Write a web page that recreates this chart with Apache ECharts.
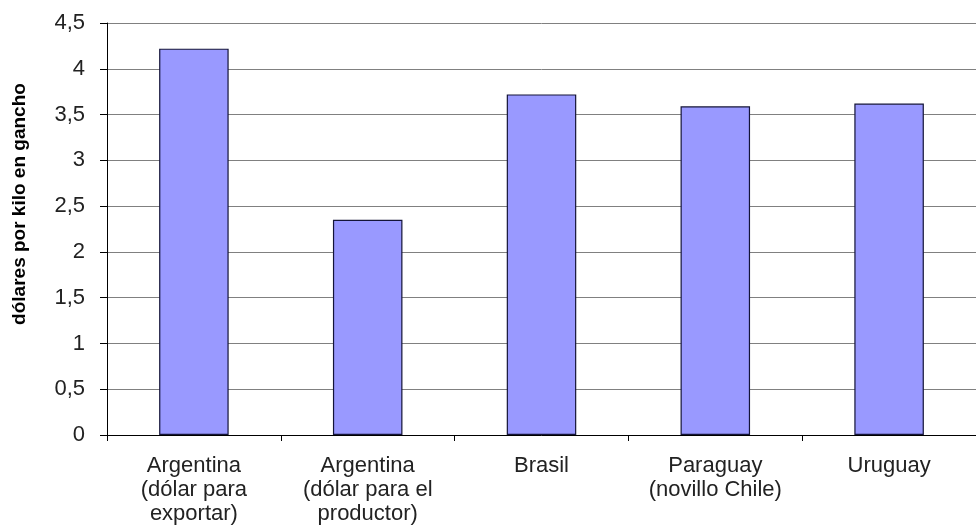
<!DOCTYPE html>
<html><head><meta charset="utf-8">
<script src="https://cdn.jsdelivr.net/npm/echarts@6/dist/echarts.min.js"></script>
<style>html,body{margin:0;padding:0;background:#fff}#c{width:976px;height:526px}</style>
</head><body><div id="c"></div>
<script>
const categories = ["Argentina\n(dólar para\nexportar)", "Argentina\n(dólar para el\nproductor)", "Brasil", "Paraguay\n(novillo Chile)", "Uruguay"];
const values = [4.22, 2.35, 3.72, 3.59, 3.62];
const yAxisName = "dólares por kilo en gancho";
const yMin = 0, yMax = 4.5, yStep = 0.5;

const chart = echarts.init(document.getElementById('c'));
chart.setOption({
  animation: false,
  backgroundColor: '#fff',
  grid: { left: 107, right: -6, top: 23, bottom: 91 },
  graphic: [{
    type: 'text', x: 20, y: 204, rotation: Math.PI / 2,
    style: { text: yAxisName, fill: '#000', font: 'bold 19px "Liberation Sans", Arial',
      textAlign: 'center', textVerticalAlign: 'middle' }
  }],
  xAxis: {
    type: 'category',
    data: categories,
    axisLine: { lineStyle: { color: '#000', width: 1 } },
    axisTick: { show: true, length: 6, lineStyle: { color: '#000' } },
    axisLabel: { color: '#222', fontFamily: 'Liberation Sans, Arial', fontSize: 22, lineHeight: 24, margin: 19 }
  },
  yAxis: {
    type: 'value', min: yMin, max: yMax, interval: yStep,
    axisLine: { show: true, lineStyle: { color: '#000', width: 1 } },
    axisTick: { show: true, length: 7, lineStyle: { color: '#000' } },
    axisLabel: { color: '#222', fontFamily: 'Liberation Sans, Arial', fontSize: 22, margin: 22,
      formatter: v => String(v).replace('.', ',') },
    splitLine: { lineStyle: { color: '#808080', width: 1 } }
  },
  series: [{
    type: 'bar', data: values, barWidth: '40%',
    itemStyle: { color: '#9999ff', borderColor: '#141438', borderWidth: 1.2 }
  }]
});
</script></body></html>
